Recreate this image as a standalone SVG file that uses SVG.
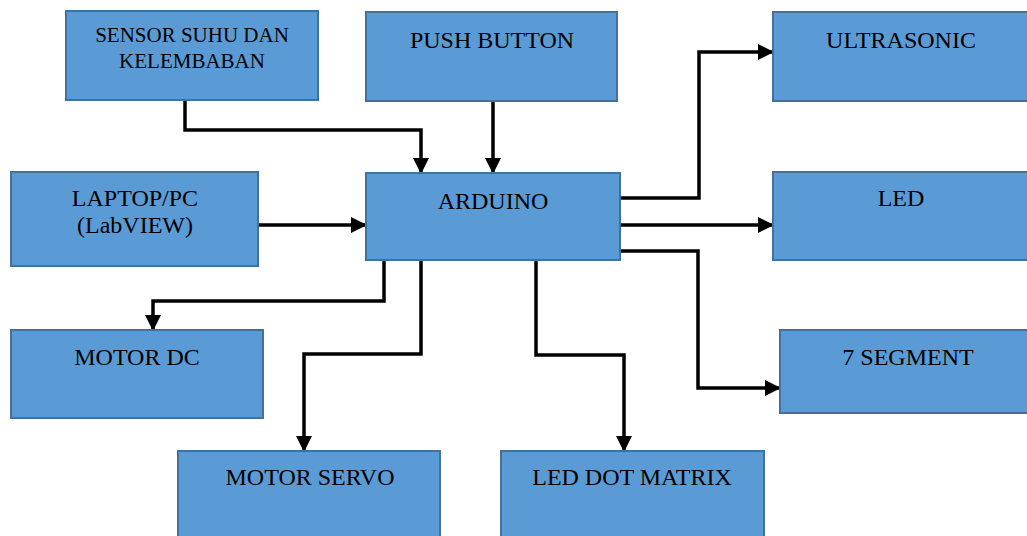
<svg xmlns="http://www.w3.org/2000/svg" width="1027" height="536" viewBox="0 0 1027 536">
<style>
.box{fill:#5B9BD5;stroke:#41719C;stroke-width:2}
.t{font-family:"Liberation Serif","Times New Roman",serif;font-size:24px;fill:#000;text-anchor:middle}
.ts{font-size:21px}
.c{fill:none;stroke:#000;stroke-width:3.5;stroke-linejoin:miter}
</style>
<defs>
<marker id="ah" markerUnits="userSpaceOnUse" markerWidth="18" markerHeight="18" refX="15" refY="8" orient="auto">
<path d="M0,0 L16,8 L0,16 Z" fill="#000"/>
</marker>
</defs>
<rect width="1027" height="536" fill="#fff"/>
<g id="connectors">
<path class="c" d="M185,100 V130 H421 V173" marker-end="url(#ah)"/>
<path class="c" d="M493,101 V173" marker-end="url(#ah)"/>
<path class="c" d="M258,225 H366" marker-end="url(#ah)"/>
<path class="c" d="M620,198 H699 V52 H773" marker-end="url(#ah)"/>
<path class="c" d="M620,225 H773" marker-end="url(#ah)"/>
<path class="c" d="M620,251 H698 V388 H780" marker-end="url(#ah)"/>
<path class="c" d="M384,260 V301 H153 V330" marker-end="url(#ah)"/>
<path class="c" d="M421,260 V354 H304 V451" marker-end="url(#ah)"/>
<path class="c" d="M536,260 V355 H624 V451" marker-end="url(#ah)"/>
</g>
<g id="sensor"><rect class="box" x="66" y="11" width="252" height="89"/><text class="t ts" x="192" y="42">SENSOR SUHU DAN</text><text class="t ts" x="192" y="68">KELEMBABAN</text></g>
<g id="pushbutton"><rect class="box" x="366" y="12" width="251" height="89"/><text class="t" x="492" y="48">PUSH BUTTON</text></g>
<g id="ultrasonic"><rect class="box" x="773" y="12" width="258" height="89"/><text class="t" x="901" y="48">ULTRASONIC</text></g>
<g id="laptop"><rect class="box" x="11" y="172" width="247" height="94"/><text class="t" x="135" y="206">LAPTOP/PC</text><text class="t" x="135" y="233">(LabVIEW)</text></g>
<g id="arduino"><rect class="box" x="366" y="173" width="254" height="87"/><text class="t" x="493" y="209">ARDUINO</text></g>
<g id="led"><rect class="box" x="773" y="172" width="258" height="88"/><text class="t" x="901" y="206">LED</text></g>
<g id="motordc"><rect class="box" x="11" y="330" width="252" height="88"/><text class="t" x="137" y="365">MOTOR DC</text></g>
<g id="segment"><rect class="box" x="780" y="330" width="251" height="83"/><text class="t" x="908" y="365">7 SEGMENT</text></g>
<g id="motorservo"><rect class="box" x="178" y="451" width="262" height="90"/><text class="t" x="310" y="485">MOTOR SERVO</text></g>
<g id="dotmatrix"><rect class="box" x="501" y="451" width="263" height="90"/><text class="t" x="632" y="485">LED DOT MATRIX</text></g>
</svg>
